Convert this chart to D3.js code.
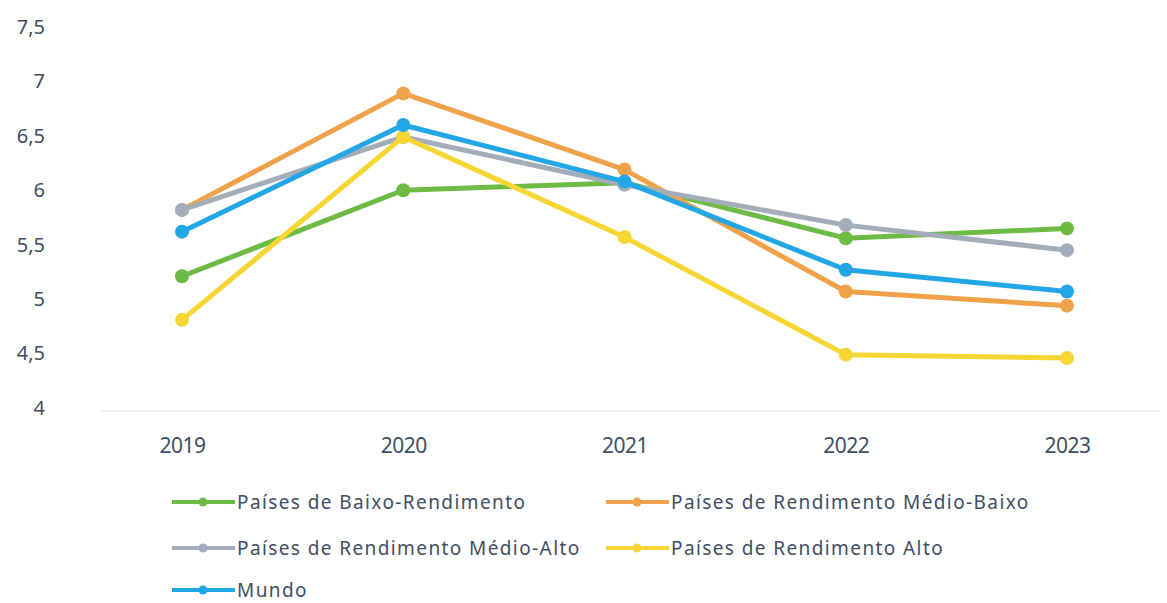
<!DOCTYPE html>
<html>
<head>
<meta charset="utf-8">
<script src="https://cdn.jsdelivr.net/npm/d3@7"></script>
<style>
  body { margin: 0; background: #fff; }
  text { font-family: "Noto Sans", Lato, sans-serif; fill: #3f4e62; }
</style>
</head>
<body>
<div id="chart"></div>
<script>
// Chart data
const years = ["2019", "2020", "2021", "2022", "2023"]
const yTicks = [4, 4.5, 5, 5.5, 6, 6.5, 7, 7.5]

const seriesNames = [
  "Países de Baixo-Rendimento",
  "Países de Rendimento Médio-Baixo",
  "Países de Rendimento Médio-Alto",
  "Países de Rendimento Alto",
  "Mundo"
]
const baixo = [5.21, 6.0, 6.07, 5.56, 5.65]
const medioBaixo = [5.82, 6.89, 6.19, 5.07, 4.94]
const medioAlto = [5.82, 6.49, 6.05, 5.68, 5.45]
const alto = [4.81, 6.49, 5.57, 4.49, 4.46]
const mundo = [5.62, 6.6, 6.08, 5.27, 5.07]
const colors = ["#6dbb45", "#f0a24a", "#a3adba", "#f7d634", "#22a6e6"]

const allSeries = [baixo, medioBaixo, medioAlto, alto, mundo]

const svgWidth = 1167
const svgHeight = 603

let svg = d3.select("#chart")
  .append("svg")
  .attr("width", svgWidth)
  .attr("height", svgHeight)

let x = d3.scalePoint().domain(years).range([182, 1067])
let y = d3.scaleLinear().domain([4, 7.5]).range([408, 27])

// faint baseline
svg.append("line")
  .attr("x1", 100).attr("x2", 1160)
  .attr("y1", 411).attr("y2", 411)
  .attr("stroke", "#efefef")
  .attr("stroke-width", 1.5)

// y labels
let leftAxis = d3.axisLeft(y)
  .tickValues(yTicks)
  .tickSize(0)
  .tickPadding(0)
  .tickFormat(d => String(d).replace(".", ","))

svg.append("g")
  .attr("transform", "translate(45,0)")
  .call(leftAxis)
  .call(g => g.select(".domain").remove())
  .selectAll("text")
  .style("font-size", "20px")
  .attr("fill", "#4a5a70")

// x labels
let bottomAxis = d3.axisBottom(x).tickSize(0).tickPadding(0)
svg.append("g")
  .attr("transform", "translate(0,438)")
  .call(bottomAxis)
  .call(g => g.select(".domain").remove())
  .selectAll("text")
  .style("font-size", "21px")
  .style("letter-spacing", "-0.5px")
  .attr("fill", "#3f4e62")
  .attr("dy", "0.71em")

let line = d3.line()
  .x((d, i) => x(years[i]))
  .y(d => y(d))

let seriesGroup = svg.append("g")

allSeries.forEach((vals, s) => {
  let g = seriesGroup.append("g")
  g.append("path")
    .datum(vals)
    .attr("d", line)
    .attr("fill", "none")
    .attr("stroke", colors[s])
    .attr("stroke-width", 5)
    .attr("stroke-linejoin", "round")
  g.selectAll("circle")
    .data(vals)
    .enter()
    .append("circle")
    .attr("cx", (d, i) => x(years[i]))
    .attr("cy", d => y(d))
    .attr("r", 7)
    .attr("fill", colors[s])
})

// legend
const legendPos = [[172, 502], [606, 502], [172, 548], [606, 548], [172, 590]]
let legend = svg.append("g")
seriesNames.forEach((name, s) => {
  let [lx, ly] = legendPos[s]
  let item = legend.append("g").attr("transform", `translate(${lx},${ly})`)
  item.append("line")
    .attr("x1", 0).attr("x2", 63)
    .attr("y1", 0).attr("y2", 0)
    .attr("stroke", colors[s])
    .attr("stroke-width", 4)
  item.append("circle")
    .attr("cx", 31).attr("cy", 0).attr("r", 4.5)
    .attr("fill", colors[s])
  item.append("text")
    .attr("x", 65)
    .attr("y", 0)
    .attr("dy", "0.35em")
    .style("font-size", "19px")
    .style("letter-spacing", "1.4px")
    .text(name)
})
</script>
</body>
</html>
